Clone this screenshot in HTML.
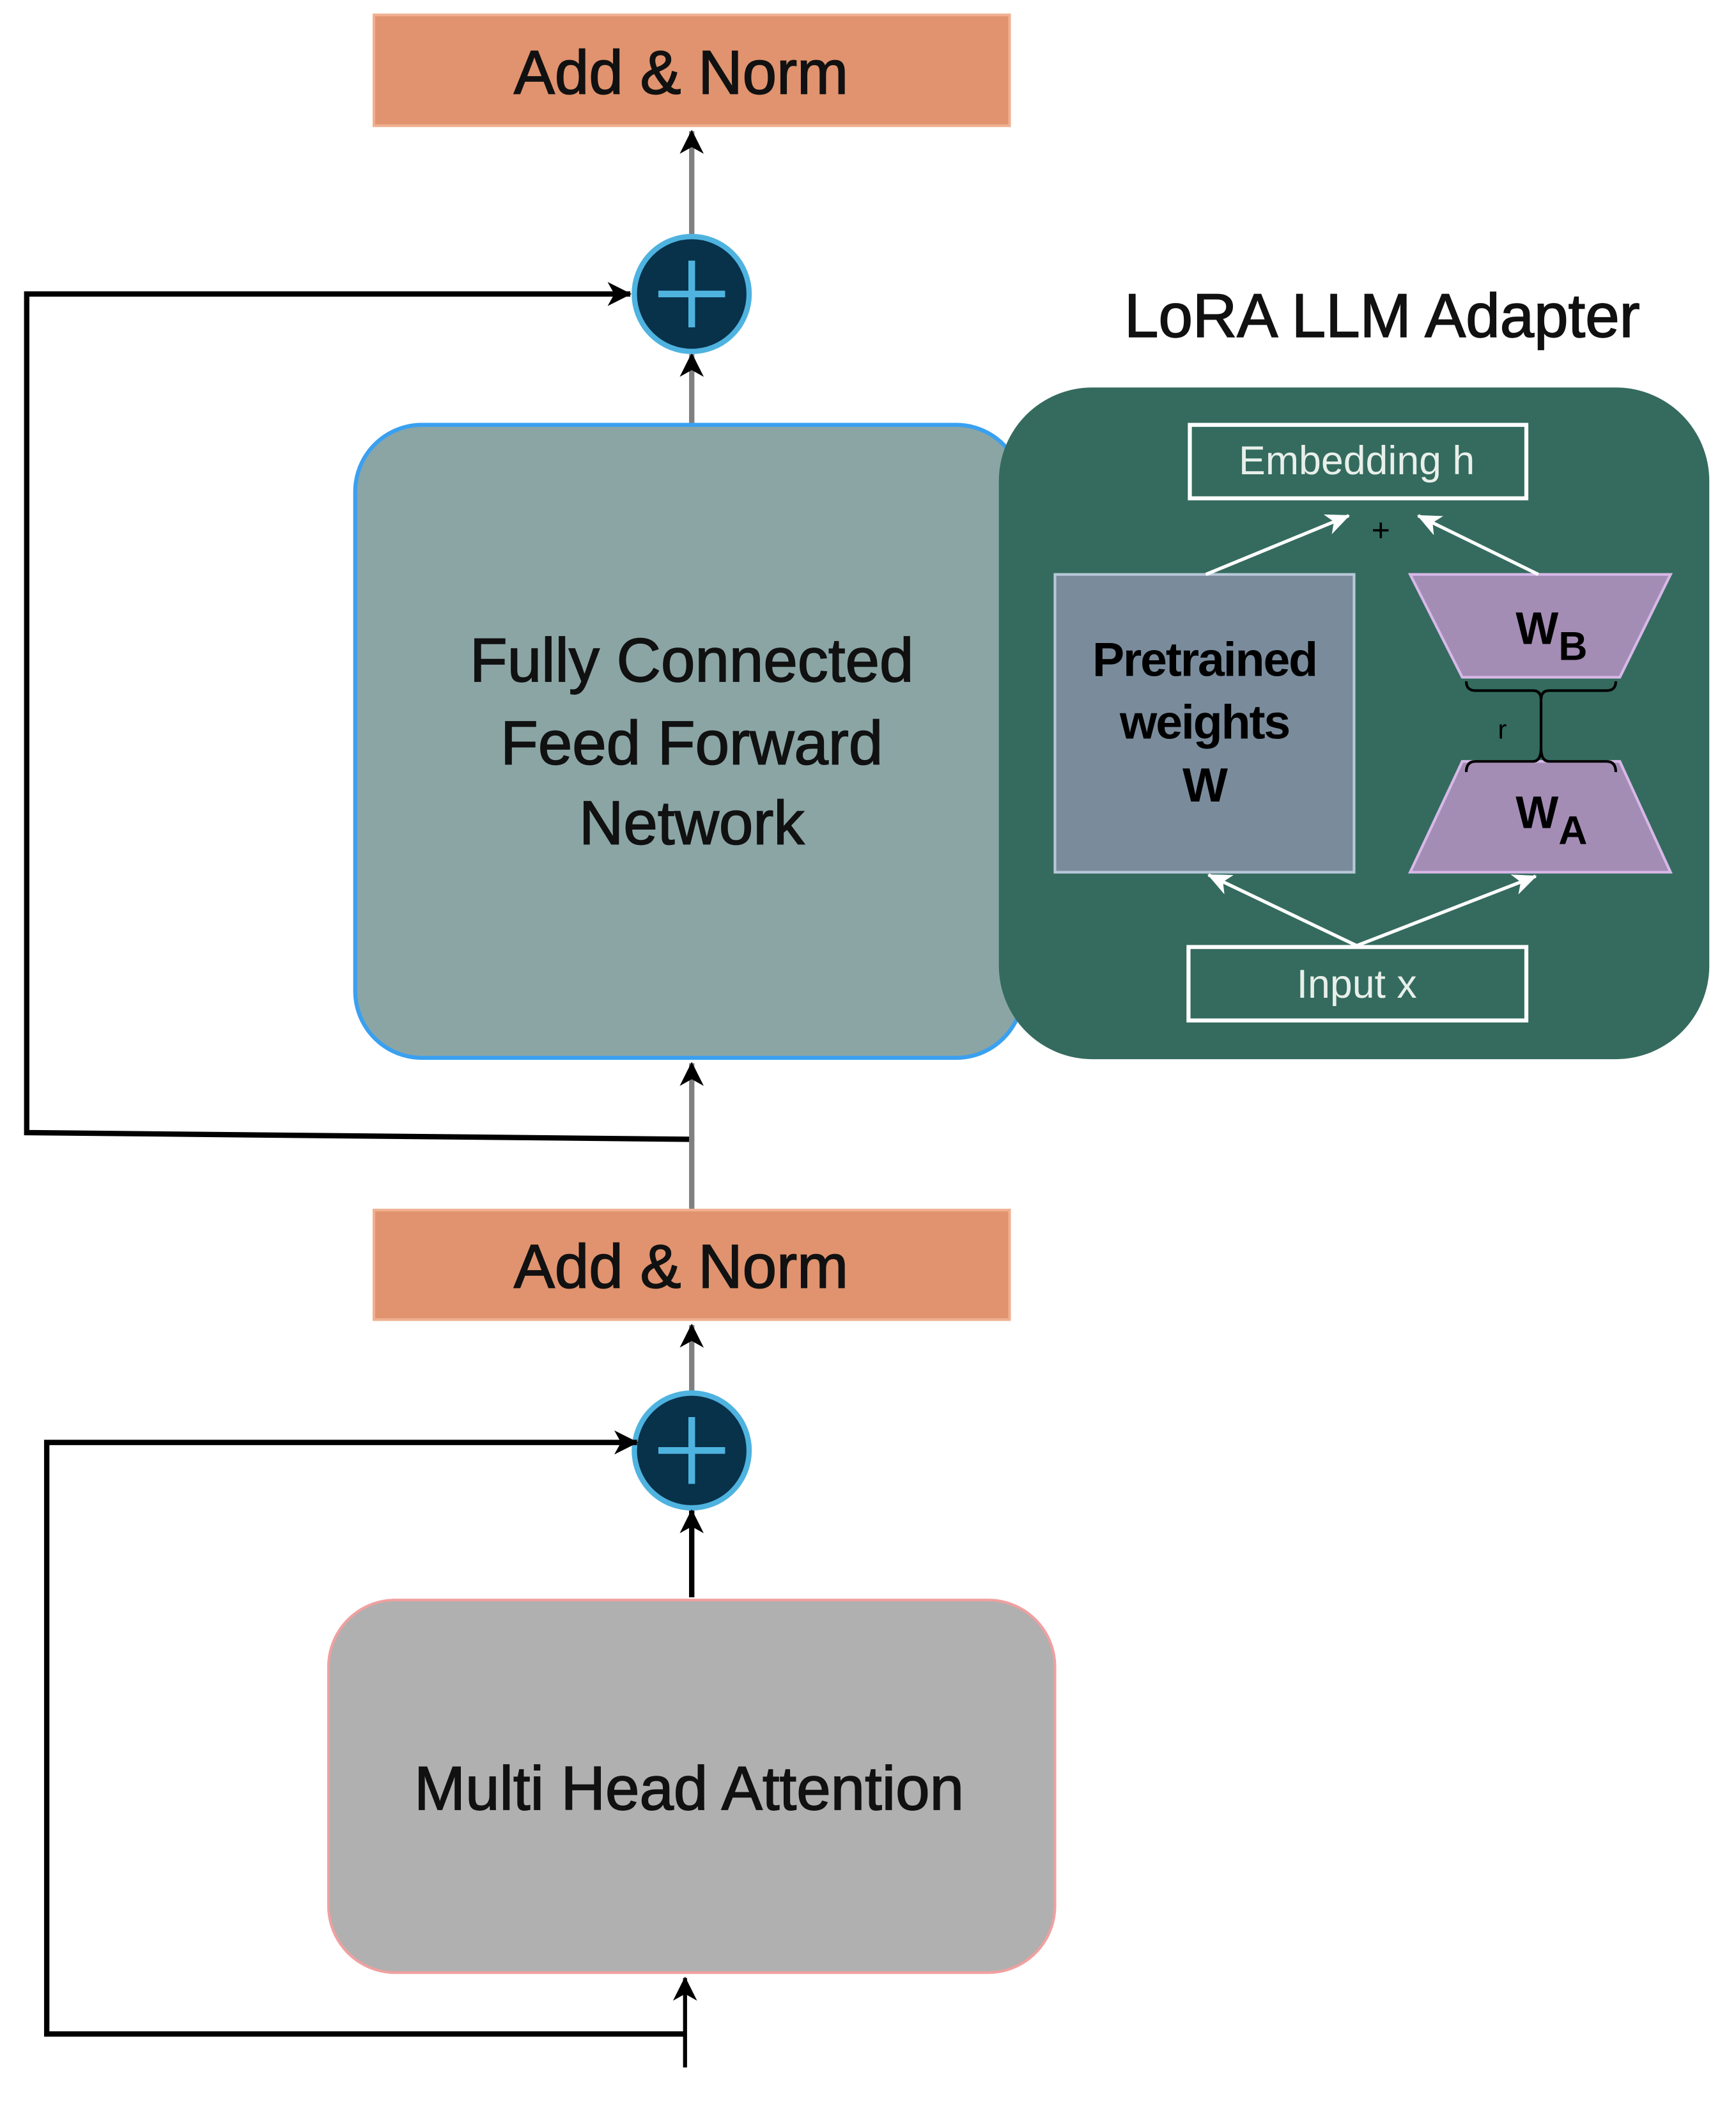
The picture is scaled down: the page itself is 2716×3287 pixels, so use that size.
<!DOCTYPE html>
<html><head><meta charset="utf-8"><style>html,body{margin:0;padding:0;background:#fff}svg{display:block}</style></head>
<body>
<svg width="2716" height="3287" viewBox="0 0 1300 1573" xmlns="http://www.w3.org/2000/svg" font-family="'Liberation Sans', 'DejaVu Sans', sans-serif">
<defs>
<marker id="abig" markerWidth="18" markerHeight="18" refX="17" refY="9" orient="auto" markerUnits="userSpaceOnUse"><path d="M0,0 L18,9 L0,18 L5,9 Z" fill="#000"/></marker>
<marker id="aw" markerWidth="18" markerHeight="18" refX="17" refY="9" orient="auto" markerUnits="userSpaceOnUse"><path d="M0,1 L18,9 L0,17 L5,9 Z" fill="#fff"/></marker>
</defs>
<rect x="280" y="11" width="476" height="83" fill="#E0936E" stroke="#F0B090" stroke-width="2"/>
<text x="510" y="70" font-size="46" text-anchor="middle" fill="#111" stroke="#111" stroke-width="0.8">Add &amp; Norm</text>
<line x1="518" y1="176" x2="518" y2="98" stroke="#808080" stroke-width="4" marker-end="url(#abig)"/>
<line x1="518" y1="318" x2="518" y2="265" stroke="#808080" stroke-width="4" marker-end="url(#abig)"/>
<circle cx="518" cy="220" r="43" fill="#08314A" stroke="#4FB3E0" stroke-width="4"/>
<line x1="493" y1="220" x2="543" y2="220" stroke="#4FB3E0" stroke-width="5"/>
<line x1="518" y1="195" x2="518" y2="245" stroke="#4FB3E0" stroke-width="5"/>
<polyline points="518,853 20,848 20,220 472,220" fill="none" stroke="#000" stroke-width="4" marker-end="url(#abig)"/>
<rect x="266" y="318" width="500" height="474" rx="50" fill="#8BA5A5" stroke="#3AA0F0" stroke-width="3"/>
<text font-size="46" text-anchor="middle" fill="#111" stroke="#111" stroke-width="0.8"><tspan x="518" y="510">Fully Connected</tspan><tspan x="518" y="572">Feed Forward</tspan><tspan x="518" y="632">Network</tspan></text>
<text x="1035" y="252" font-size="46" text-anchor="middle" fill="#111" stroke="#111" stroke-width="0.8">LoRA LLM Adapter</text>
<rect x="748" y="290" width="532" height="503" rx="70" fill="#346B5E"/>
<rect x="891" y="318" width="252" height="55" fill="none" stroke="#fff" stroke-width="3"/>
<text x="1016" y="355" font-size="30" text-anchor="middle" fill="#E8EFEA">Embedding h</text>
<rect x="890" y="709" width="253" height="55" fill="none" stroke="#fff" stroke-width="3"/>
<text x="1016" y="747" font-size="30" text-anchor="middle" fill="#E8EFEA">Input x</text>
<rect x="790" y="430" width="224" height="223" fill="#7A8C9C" stroke="#B8C8D8" stroke-width="2"/>
<text font-size="36" font-weight="bold" text-anchor="middle" fill="#000" letter-spacing="-1"><tspan x="902" y="506">Pretrained</tspan><tspan x="902" y="553">weights</tspan><tspan x="902" y="600">W</tspan></text>
<polygon points="1056,430 1251,430 1213,507 1095,507" fill="#A48DB5" stroke="#D8B8E8" stroke-width="2"/>
<polygon points="1095,570 1213,570 1251,653 1056,653" fill="#A48DB5" stroke="#D8B8E8" stroke-width="2"/>
<text x="1135" y="482" font-size="34" font-weight="bold" fill="#000">W<tspan font-size="30" dy="12">B</tspan></text>
<text x="1135" y="620" font-size="34" font-weight="bold" fill="#000">W<tspan font-size="30" dy="12">A</tspan></text>
<text x="1034" y="405" font-size="24" text-anchor="middle" fill="#000">+</text>
<path d="M1098,510 Q1098,517 1105,517 L1148,517 Q1154,517 1154,524 Q1154,517 1160,517 L1203,517 Q1210,517 1210,510" fill="none" stroke="#000" stroke-width="2"/>
<path d="M1098,578 Q1098,570 1105,570 L1148,570 Q1154,570 1154,560 Q1154,570 1160,570 L1203,570 Q1210,570 1210,578" fill="none" stroke="#000" stroke-width="2"/>
<line x1="1154" y1="524" x2="1154" y2="560" stroke="#000" stroke-width="2"/>
<text x="1125" y="553" font-size="20" text-anchor="middle" fill="#000">r</text>
<line x1="903" y1="430" x2="1010" y2="386" stroke="#fff" stroke-width="2.5" marker-end="url(#aw)"/>
<line x1="1152" y1="430" x2="1062" y2="386" stroke="#fff" stroke-width="2.5" marker-end="url(#aw)"/>
<line x1="1016" y1="708" x2="905" y2="655" stroke="#fff" stroke-width="2.5" marker-end="url(#aw)"/>
<line x1="1016" y1="708" x2="1150" y2="656" stroke="#fff" stroke-width="2.5" marker-end="url(#aw)"/>
<line x1="518" y1="905" x2="518" y2="796" stroke="#808080" stroke-width="4" marker-end="url(#abig)"/>
<rect x="280" y="906" width="476" height="82" fill="#E0936E" stroke="#F0B090" stroke-width="2"/>
<text x="510" y="964" font-size="46" text-anchor="middle" fill="#111" stroke="#111" stroke-width="0.8">Add &amp; Norm</text>
<line x1="518" y1="1042" x2="518" y2="992" stroke="#808080" stroke-width="4" marker-end="url(#abig)"/>
<circle cx="518" cy="1086" r="43" fill="#08314A" stroke="#4FB3E0" stroke-width="4"/>
<line x1="493" y1="1086" x2="543" y2="1086" stroke="#4FB3E0" stroke-width="5"/>
<line x1="518" y1="1061" x2="518" y2="1111" stroke="#4FB3E0" stroke-width="5"/>
<polyline points="513,1523 35,1523 35,1080 477,1080" fill="none" stroke="#000" stroke-width="4" marker-end="url(#abig)"/>
<line x1="518" y1="1196" x2="518" y2="1131" stroke="#000" stroke-width="4" marker-end="url(#abig)"/>
<rect x="246" y="1198" width="544" height="279" rx="50" fill="#B0B0B0" stroke="#F0A0A0" stroke-width="2"/>
<text x="516" y="1355" font-size="46" text-anchor="middle" fill="#111" stroke="#111" stroke-width="0.8">Multi Head Attention</text>
<line x1="513" y1="1548" x2="513" y2="1481" stroke="#000" stroke-width="3" marker-end="url(#abig)"/>
</svg>
</body></html>
